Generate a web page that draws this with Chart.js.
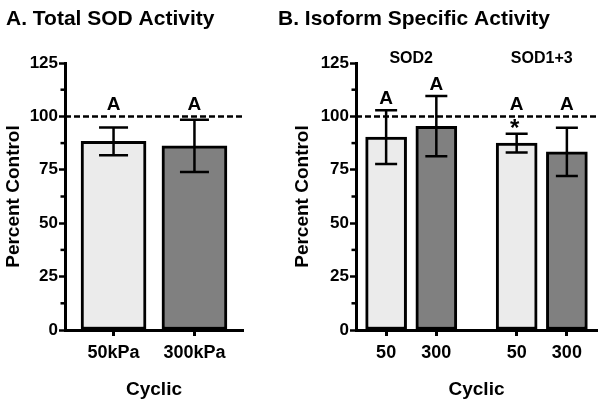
<!DOCTYPE html>
<html>
<head>
<meta charset="utf-8">
<script src="https://cdn.jsdelivr.net/npm/chart.js@4"></script>
<style>
  body { margin: 0; background: #fff; }
  #wrap { position: relative; width: 604px; height: 408px; }
  canvas { position: absolute; top: 0; }
  #chartA { left: 0; }
  #chartB { left: 270px; }
</style>
</head>
<body>
<div id="wrap">
  <canvas id="chartA" width="270" height="408"></canvas>
  <canvas id="chartB" width="334" height="408"></canvas>
</div>
<script>
// panel A - total SOD
var labelsA = ["50kPa", "300kPa"];
var meansA = [88.3, 86.2];
var errA = [6.5, 12.2];
var lettersA = ["A", "A"];

// panel B - isoform specific
var isoforms = ["SOD2", "SOD1+3"];
var labelsB = ["50", "300", "50", "300"];
var meansB = [90.3, 95.4, 87.5, 83.4];
var errB = [12.6, 14.1, 4.4, 11.3];
var lettersB = ["A", "A", "A", "A"];
var starsB = ["", "", "*", ""];

var yTicks = [0, 25, 50, 75, 100, 125];
var barColors = ["#ebebeb", "#808080"];

var FONT = '"Liberation Sans", Arial, Helvetica, sans-serif';
Chart.defaults.font.family = FONT;
Chart.defaults.font.weight = "bold";
Chart.defaults.color = "#000";

// x positions: two bars per group, a wider gap between groups
var groupGap = 0.6;
function positions(n) {
  var out = [];
  for (var i = 0; i < n; i++) out.push(i + Math.floor(i / 2) * groupGap);
  return out;
}

function extras(o) {
  return {
    id: "extras",
    afterDraw: function (chart) {
      var ctx = chart.ctx;
      var xs = chart.scales.x, ys = chart.scales.y;
      var area = chart.chartArea;
      ctx.save();
      ctx.fillStyle = "#000";
      ctx.strokeStyle = "#000";

      // panel title
      ctx.font = "bold 21px " + FONT;
      ctx.textAlign = "left";
      ctx.textBaseline = "alphabetic";
      ctx.fillText(o.title, o.titleX, 25);

      // minor ticks on y
      ctx.lineWidth = 2.5;
      for (var v = 12.5; v < 125; v += 25) {
        var py = ys.getPixelForValue(v);
        ctx.beginPath();
        ctx.moveTo(area.left - 4.5, py);
        ctx.lineTo(area.left, py);
        ctx.stroke();
      }

      // dashed control line
      var p100 = ys.getPixelForValue(100);
      ctx.setLineDash([6, 3]);
      ctx.beginPath();
      ctx.moveTo(area.left, p100);
      ctx.lineTo(area.right + 2, p100);
      ctx.stroke();
      ctx.setLineDash([]);

      // error bars, letters
      ctx.textAlign = "center";
      for (var i = 0; i < o.means.length; i++) {
        var px = xs.getPixelForValue(o.pos[i]);
        var top = ys.getPixelForValue(o.means[i] + o.err[i]);
        var bot = ys.getPixelForValue(o.means[i] - o.err[i]);
        var hw = o.cap / 2;
        ctx.lineWidth = 2.5;
        ctx.beginPath();
        ctx.moveTo(px, top); ctx.lineTo(px, bot);
        ctx.moveTo(px - hw, top); ctx.lineTo(px + hw, top);
        ctx.moveTo(px - hw, bot); ctx.lineTo(px + hw, bot);
        ctx.stroke();

        if (o.stars && o.stars[i]) {
          ctx.font = "bold 24px " + FONT;
          ctx.fillText(o.stars[i], px - 2, top + 2);
        }
        ctx.font = "bold 19px " + FONT;
        ctx.fillText(o.letters[i], px, Math.min(top, p100) - 6);
      }

      // group labels
      if (o.groups) {
        ctx.font = "bold 16px " + FONT;
        for (var g = 0; g < o.groups.length; g++) {
          var gx = (xs.getPixelForValue(o.pos[g * 2]) + xs.getPixelForValue(o.pos[g * 2 + 1])) / 2;
          ctx.fillText(o.groups[g], gx, 63);
        }
      }
      ctx.restore();
    }
  };
}

function makeChart(id, o) {
  var pts = o.means.map(function (m, i) { return { x: o.pos[i], y: m }; });
  return new Chart(document.getElementById(id), {
    type: "bar",
    data: {
      datasets: [{
        data: pts,
        backgroundColor: o.means.map(function (m, i) { return barColors[i % 2]; }),
        borderColor: "#000",
        borderWidth: 3,
        borderSkipped: false,
        barThickness: o.barW
      }]
    },
    options: {
      responsive: false,
      animation: false,
      layout: { padding: { top: 63, left: 0, right: o.padRight, bottom: 0 } },
      plugins: { legend: { display: false }, tooltip: { enabled: false } },
      scales: {
        x: {
          type: "linear",
          min: o.xMin,
          max: o.xMax,
          offset: false,
          afterBuildTicks: function (s) { s.ticks = o.pos.map(function (p) { return { value: p }; }); },
          afterFit: function (s) { s.height = 78; },
          grid: { display: true, drawOnChartArea: false, drawTicks: true, tickLength: 6, tickWidth: 3, tickColor: "#000", offset: false },
          border: { display: true, width: 3, color: "#000" },
          ticks: {
            autoSkip: false, maxRotation: 0, padding: 6,
            font: { size: 18, weight: "bold" },
            callback: function (v, i) { return o.labels[i]; }
          },
          title: { display: true, text: "Cyclic", font: { size: 19, weight: "bold" }, padding: { top: 0, bottom: 7 } }
        },
        y: {
          min: 0,
          max: 125,
          afterBuildTicks: function (s) { s.ticks = yTicks.map(function (t) { return { value: t }; }); },
          afterFit: function (s) { s.width = o.yWidth; },
          grid: { display: true, drawOnChartArea: false, drawTicks: true, tickLength: 6, tickWidth: 2.5, tickColor: "#000" },
          border: { display: true, width: 3, color: "#000" },
          ticks: { padding: 1, font: { size: 17, weight: "bold" } },
          title: { display: true, text: "Percent Control", font: { size: 19, weight: "bold" }, padding: { top: o.yTitlePad, bottom: 0 } }
        }
      }
    },
    plugins: [extras(o)]
  });
}

makeChart("chartA", {
  title: "A. Total SOD Activity", titleX: 6,
  labels: labelsA, means: meansA, err: errA, letters: lettersA,
  pos: positions(labelsA.length), xMin: -0.6, xMax: 1.6,
  barW: 65, cap: 29, yWidth: 65, padRight: 27, yTitlePad: 2
});

makeChart("chartB", {
  title: "B. Isoform Specific Activity", titleX: 8,
  labels: labelsB, means: meansB, err: errB, letters: lettersB, stars: starsB,
  groups: isoforms,
  pos: positions(labelsB.length), xMin: -0.6, xMax: 4.2,
  barW: 41, cap: 22, yWidth: 86, padRight: 7, yTitlePad: 21
});
</script>
</body>
</html>
